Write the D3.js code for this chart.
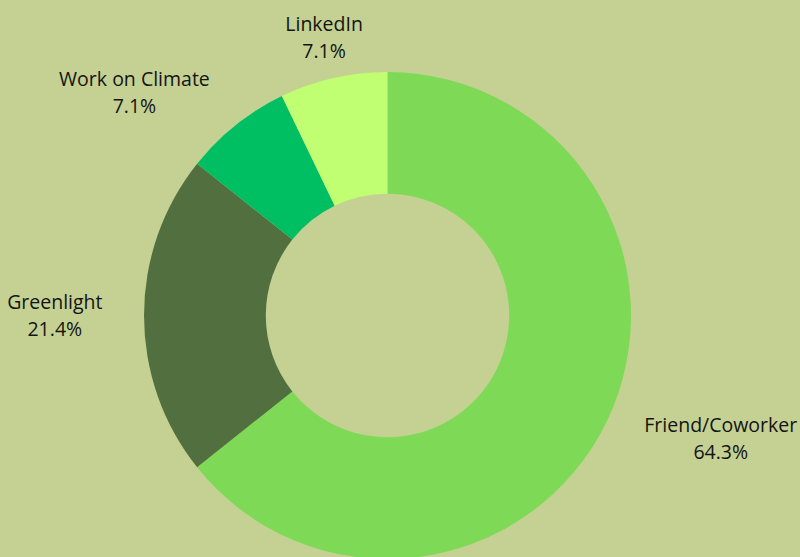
<!DOCTYPE html>
<html>
<head>
  <meta charset="utf-8">
  <style>
    body {
      margin: 0;
      background-color: #c4d192;
      font-family: "Open Sans", sans-serif;
    }
    svg {
      display: block;
    }
  </style>
  <script src="https://cdn.jsdelivr.net/npm/d3@7/dist/d3.min.js"></script>
</head>
<body>
  <svg id="Donut"></svg>
</body>
<script>

  // sources, in clockwise order starting at 12 o'clock
  let categories = ["Friend/Coworker", "Greenlight", "Work on Climate", "LinkedIn"]
  let counts = [9, 3, 1, 1]
  let percentLabels = ["64.3%", "21.4%", "7.1%", "7.1%"]
  let colors = ["#7ed957", "#52703f", "#00bf63", "#c1ff72"]

  function getConfig() {
    let width = 800
    let height = 557
    let cx = 387.5
    let cy = 315.5
    let outerRadius = 243.5
    let innerRadius = 121.7
    // distance from the center where labels are anchored
    let labelRadius = 285
    let container = d3.select("#Donut")
      .attr("width", width)
      .attr("height", height)
    return { width, height, cx, cy, outerRadius, innerRadius, labelRadius, container }
  }

  function drawDonut() {
    let config = getConfig()
    let { container, cx, cy, outerRadius, innerRadius, labelRadius } = config

    let data = categories.map((c, i) => ({
      name: c,
      count: counts[i],
      pct: percentLabels[i],
      color: colors[i]
    }))

    let pie = d3.pie()
      .value(d => d.count)
      .sort(null)

    let arc = d3.arc()
      .innerRadius(innerRadius)
      .outerRadius(outerRadius)

    let labelArc = d3.arc()
      .innerRadius(labelRadius)
      .outerRadius(labelRadius)

    let arcs = pie(data)

    let body = container.append("g")
      .attr("transform", `translate(${cx},${cy})`)

    body.selectAll(".slice")
      .data(arcs)
      .enter().append("path")
      .attr("class", "slice")
      .attr("d", arc)
      .attr("fill", d => d.data.color)

    let labels = body.selectAll(".label")
      .data(arcs)
      .enter().append("g")
      .attr("class", "label")

    let text = labels.append("text")
      .attr("text-anchor", "middle")
      .attr("fill", "#141414")
      .style("font-size", "19.5px")

    text.append("tspan")
      .attr("x", 0)
      .attr("y", -7)
      .text(d => d.data.name)

    text.append("tspan")
      .attr("x", 0)
      .attr("y", 20)
      .text(d => d.data.pct)

    // place each label block next to its anchor point, on the side facing away from the ring
    labels.each(function(d) {
      let g = d3.select(this)
      let box = g.node().getBBox()
      let [px, py] = labelArc.centroid(d)
      let angle = (d.startAngle + d.endAngle) / 2
      let s = Math.sin(angle)
      let dx = 0
      if (s > 0.5) dx = box.width / 2
      else if (s < -0.5) dx = -box.width / 2
      g.attr("transform", `translate(${px + dx},${py})`)
    })
  }

  drawDonut()

</script>
</html>
